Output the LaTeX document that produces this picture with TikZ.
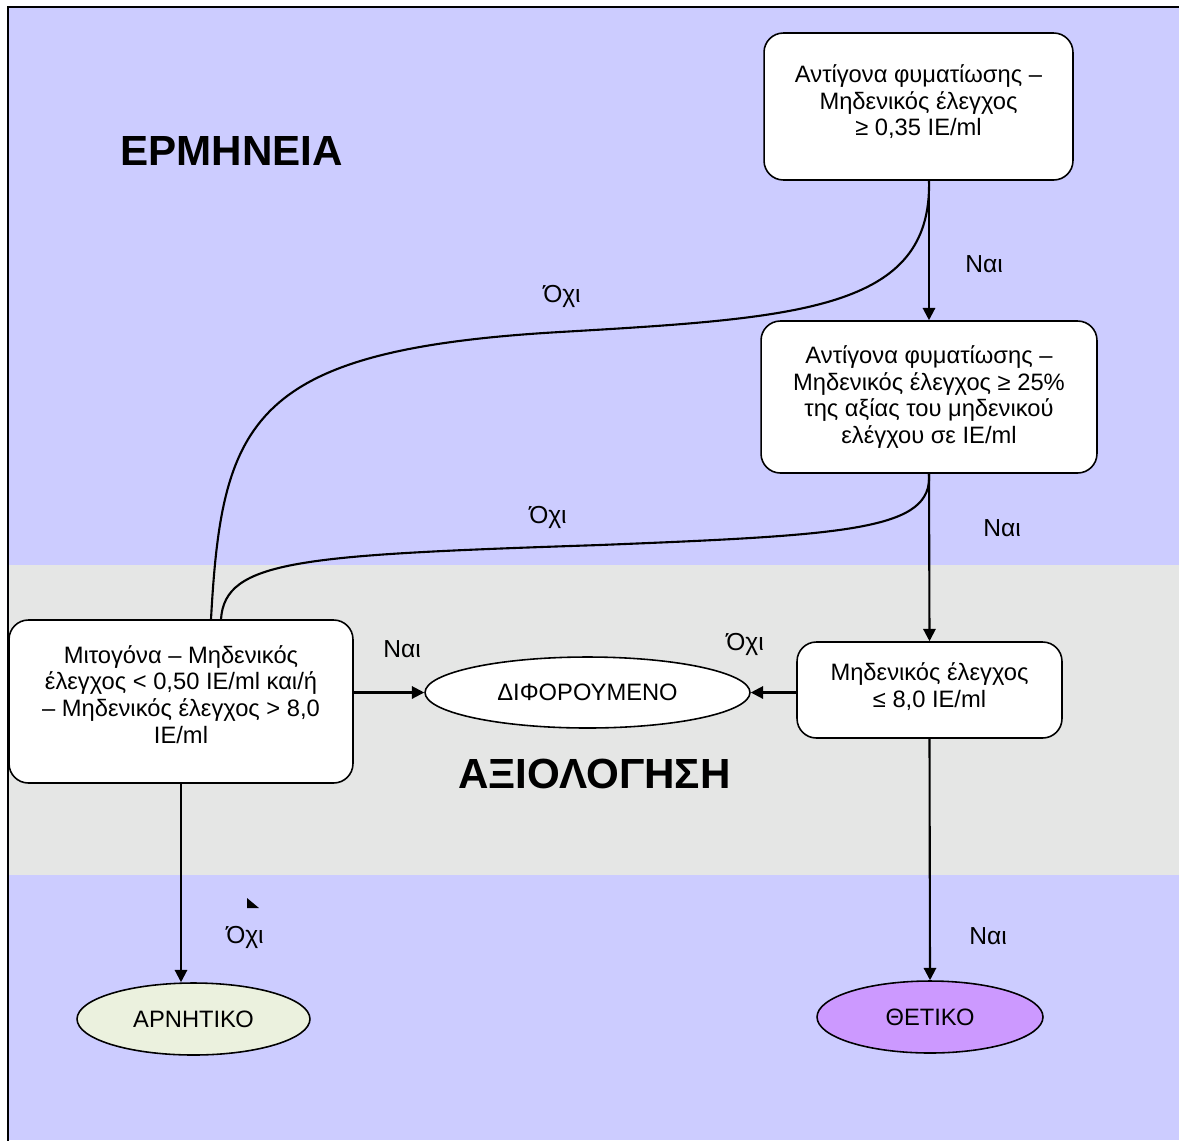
\documentclass[tikz,border=0pt]{standalone}
\usepackage{fontspec}
\setmainfont{Liberation Sans}
\usetikzlibrary{arrows.meta,calc,shapes.geometric}
\definecolor{lav}{HTML}{CCCCFF}
\definecolor{band}{HTML}{E5E6E5}
\definecolor{negfill}{HTML}{EBF1DE}
\definecolor{posfill}{HTML}{CC99FF}
\newcommand{\lowpad}[1]{\rule[-#1]{0pt}{#1}}
\begin{document}
\begin{tikzpicture}[x=0.02cm,y=-0.02cm,
  box/.style={draw=black,line width=0.9pt,fill=white,rounded corners=11pt,align=center,font=\fontsize{13.5}{15.2}\selectfont,inner sep=0pt},
  oval/.style={draw=black,line width=0.9pt,ellipse,inner sep=0pt,font=\fontsize{13.5}{15.2}\selectfont},
  lbl/.style={anchor=base,font=\fontsize{14}{16}\selectfont,inner sep=0pt},
  big/.style={anchor=base,font=\fontsize{24}{28}\selectfont\bfseries,inner sep=0pt},
  conn/.style={line width=1.2pt},
  arr/.style={conn,-{Triangle[length=7pt,width=7pt]}}
]
\useasboundingbox (0,0) rectangle (1179,1140);
\fill[lav] (8,7) rectangle (1179,1140);
\fill[band] (9,565) rectangle (1179,875);
\draw[line width=1.3pt] (1190,7) -- (8,7) -- (8,1150);

\node[big] (t1) at (231.5,165) {ΕΡΜΗΝΕΙΑ};
\node[big] (t2) at (594.5,788) {ΑΞΙΟΛΟΓΗΣΗ};

\node[box,minimum width=6.18cm,minimum height=2.94cm] (b1) at (918.5,106.5) {Αντίγονα φυματίωσης –\\Μηδενικός έλεγχος\\≥ 0,35 IE/ml\lowpad{7pt}};
\node[box,minimum width=6.72cm,minimum height=3.04cm] (b2) at (929,397) {Αντίγονα φυματίωσης –\\Μηδενικός έλεγχος ≥ 25\%\\της αξίας του μηδενικού\\ελέγχου σε IE/ml};
\node[box,minimum width=6.88cm,minimum height=3.26cm] (b3) at (181,701.5) {Μιτογόνα – Μηδενικός\\έλεγχος < 0,50 IE/ml και/ή\\– Μηδενικός έλεγχος > 8,0\\IE/ml\lowpad{8.3pt}};
\node[box,minimum width=5.3cm,minimum height=1.92cm] (b4) at (929.5,690) {Μηδενικός έλεγχος\\≤ 8,0 IE/ml\lowpad{6pt}};

\node[oval,fill=white,minimum width=6.5cm,minimum height=1.42cm] (dif) at (587.5,692.5) {ΔΙΦΟΡΟΥΜΕΝΟ};
\node[oval,fill=negfill,minimum width=4.66cm,minimum height=1.44cm] (neg) at (193.5,1019) {ΑΡΝΗΤΙΚΟ};
\node[oval,fill=posfill,minimum width=4.52cm,minimum height=1.44cm] (pos) at (930,1017) {ΘΕΤΙΚΟ};

\coordinate (c1s) at (b2.north |- b1.south);
\draw[conn] (c1s) .. controls (932,310) and (800,318) .. (560,332) .. controls (250,350) and (222,420) .. ($(b3.north)+(30,0)$);
\draw[conn] (b2.south) .. controls (933,530) and (850,535) .. (600,545) .. controls (300,555) and (225,560) .. ($(b3.north)+(40,0)$);

\draw[arr] (c1s) -- (b2.north);
\draw[arr] (b2.south) -- (b4.north);
\draw[arr] (b4.south) -- (pos.north);
\draw[arr] (b4.west |- dif.east) -- (dif.east);
\draw[arr] (b3.east |- dif.west) -- (dif.west);
\draw[arr] (b3.south) -- (b3.south |- neg.north);

\fill (247,898) -- (247,908) -- (259,908) -- cycle;

\node[lbl] (l1) at (562,302) {Όχι};
\node[lbl] (l2) at (984,272) {Ναι};
\node[lbl] (l3) at (548,523) {Όχι};
\node[lbl] (l4) at (1002,536) {Ναι};
\node[lbl] (l5) at (402,657) {Ναι};
\node[lbl] (l6) at (745,650) {Όχι};
\node[lbl] (l7) at (245,943) {Όχι};
\node[lbl] (l8) at (988,944) {Ναι};
\end{tikzpicture}
\end{document}
